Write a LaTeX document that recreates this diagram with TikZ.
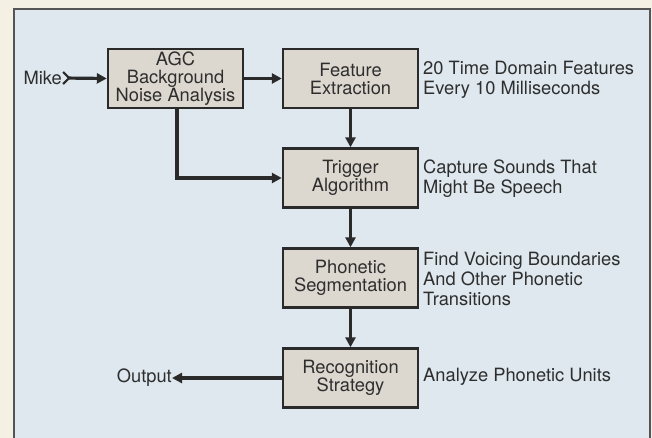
\documentclass[tikz,border=0pt]{standalone}
\usepackage{fontspec}
\setmainfont{TeX Gyre Heros}
\usetikzlibrary{arrows.meta}
\definecolor{outerbg}{HTML}{F4F1E4}
\definecolor{innerbg}{HTML}{DEE8EE}
\definecolor{boxfill}{HTML}{DCD7CF}
\definecolor{ink}{HTML}{2A2A2A}
\definecolor{txt}{HTML}{2E2E2E}
\begin{document}
\begin{tikzpicture}[x=1pt,y=-1pt,
  stagebox/.style={draw=ink,line width=2.4pt,fill=boxfill,minimum width=135pt,minimum height=59pt,
    inner sep=0pt,align=center,text=txt,font=\fontsize{18.3}{18}\selectfont},
  note/.style={anchor=west,align=left,inner sep=0pt,text=txt,font=\fontsize{18.3}{20}\selectfont},
  flow/.style={draw=ink,line width=3.2pt,-{Triangle[length=10pt,width=10pt]}},
]
\useasboundingbox (0,0) rectangle (652,438);
\fill[outerbg] (0,0) rectangle (652,438);
\begin{scope}
\clip (0,0) rectangle (652,438);
\draw[draw=ink!80,line width=2pt,fill=innerbg] (14,9) rectangle (650,450);
\end{scope}

\node[stagebox] (agc) at (175.5,78.5) {AGC\\Background\\Noise Analysis};
\node[stagebox] (feat) at (350.5,78.5) {Feature\\Extraction};
\node[stagebox] (trig) at (350.5,178) {Trigger\\Algorithm};
\node[stagebox] (phon) at (350.5,278) {Phonetic\\Segmentation};
\node[stagebox] (reco) at (350.5,378) {Recognition\\Strategy};

\node[note] (n1) at (423,80) {20 Time Domain Features\\Every 10 Milliseconds};
\node[note] (n2) at (423,179) {Capture Sounds That\\Might Be Speech};
\node[note] (n3) at (423,279) {Find Voicing Boundaries\\And Other Phonetic\\Transitions};
\node[note] (n4) at (423,377) {Analyze Phonetic Units};

\node[anchor=east,inner sep=0pt,text=txt,font=\fontsize{18.3}{18}\selectfont] (mike) at (62,78) {Mike};
\node[anchor=east,inner sep=0pt,text=txt,font=\fontsize{18.3}{18}\selectfont] (out) at (172,378) {Output};

\draw[flow,{Straight Barb[reversed,length=6pt,width=12pt,line width=2.2pt]}-{Triangle[length=10pt,width=10pt]}] (mike.east) -- (agc.west);
\draw[flow] (agc.east) -- (feat.west);
\draw[flow] (agc.south) ++(1.5,0) coordinate (bend0) |- (trig.west);
\draw[flow] (feat.south) -- (trig.north);
\draw[flow] (trig.south) -- (phon.north);
\draw[flow] (phon.south) -- (reco.north);
\draw[flow] (reco.west) -- (out.east);
\end{tikzpicture}
\end{document}
